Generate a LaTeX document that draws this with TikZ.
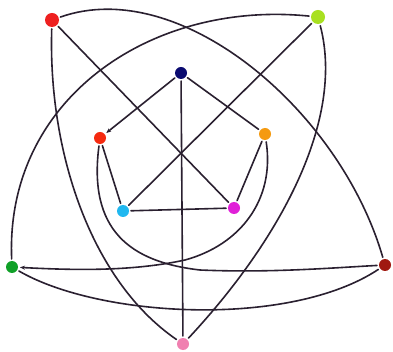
\documentclass[tikz,border=0pt]{standalone}
\usetikzlibrary{backgrounds,arrows.meta}
\definecolor{cA}{HTML}{EE2020}
\definecolor{cB}{HTML}{A8E020}
\definecolor{cC}{HTML}{0A0A70}
\definecolor{cD}{HTML}{F52A10}
\definecolor{cE}{HTML}{F59A10}
\definecolor{cF}{HTML}{20B8F0}
\definecolor{cG}{HTML}{E020D8}
\definecolor{cH}{HTML}{10A028}
\definecolor{cI}{HTML}{A01810}
\definecolor{cJ}{HTML}{F080B0}
\definecolor{ink}{HTML}{2A2030}
\tikzset{
  dot/.style={circle,fill=#1,inner sep=0pt,minimum size=12pt,outer sep=2pt},
  bigdot/.style={dot=#1,minimum size=14pt},
  edge/.style={draw=ink,line width=1.6pt,line cap=round},
  arr/.style={-{Stealth[length=5pt,width=4pt]}}
}
\begin{document}
\begin{tikzpicture}[x=1pt,y=-1pt]
\useasboundingbox (0,0) rectangle (393,352);
\node[bigdot=cA] (A) at (52,20) {};
\node[bigdot=cB] (B) at (318,17) {};
\node[dot=cC] (C) at (181,73) {};
\node[dot=cD] (D) at (100,138) {};
\node[dot=cE] (E) at (265,134) {};
\node[dot=cF] (F) at (123,211) {};
\node[dot=cG] (G) at (234,208) {};
\node[dot=cH] (H) at (12,267) {};
\node[dot=cI] (I) at (385,265) {};
\node[dot=cJ] (J) at (183,344) {};
\coordinate (m1) at (200,270);
\coordinate (m2) at (185,260);
\begin{scope}[on background layer]
\fill[white] (0,0) rectangle (393,352);
% outer arcs
\draw[edge] (A) .. controls (180,-25) and (340,110) .. (I);
\draw[edge] (B) .. controls (150,0) and (5,100) .. (H);
\draw[edge] (A) .. controls (48,150) and (90,280) .. (J);
\draw[edge] (B) .. controls (345,120) and (280,240) .. (J);
% straight diagonals
\draw[edge] (A) -- (G);
\draw[edge] (B) -- (F);
\draw[edge] (C) -- (J);
% inner pentagon
\draw[edge,arr] (C) -- (D);
\draw[edge] (C) -- (E);
\draw[edge] (D) -- (F);
\draw[edge] (E) -- (G);
\draw[edge] (F) -- (G);
% lower curves
\draw[edge] (D) .. controls (88,230) and (130,262) .. (m1)
  .. controls (270,273) and (330,268) .. (I);
\draw[edge,arr] (E) .. controls (275,200) and (240,245) .. (m2)
  .. controls (130,272) and (70,270) .. (H);
\draw[edge] (H) .. controls (100,318) and (290,328) .. (I);
\end{scope}
\end{tikzpicture}
\end{document}
